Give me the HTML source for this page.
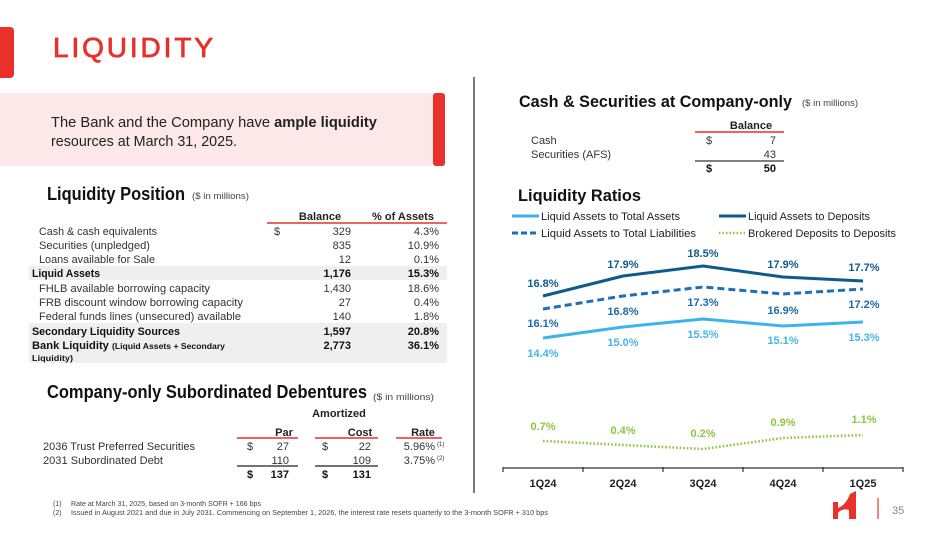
<!DOCTYPE html>
<html>
<head>
<meta charset="utf-8">
<style>
html,body{margin:0;padding:0;background:#fff;}
svg{display:block;}
</style>
</head>
<body>
<svg width="949" height="534" viewBox="0 0 949 534" xmlns="http://www.w3.org/2000/svg" font-family="'Liberation Sans', sans-serif">
  <rect x="0" y="0" width="949" height="534" fill="#ffffff"/>

  <!-- Title -->
  <rect x="-6" y="27" width="20" height="51" rx="4" fill="#e8312a"/>
  <text x="53" y="57" font-size="28" fill="#e8312a" stroke="#e8312a" stroke-width="0.8" textLength="160" lengthAdjust="spacing">LIQUIDITY</text>

  <!-- Pink callout -->
  <rect x="0" y="93" width="440" height="73" fill="#fde8e9"/>
  <rect x="433" y="93" width="12" height="73" rx="3" fill="#e8312a"/>
  <text x="51" y="127" font-size="15" fill="#222" textLength="326" lengthAdjust="spacingAndGlyphs">The Bank and the Company have <tspan font-weight="bold">ample liquidity</tspan></text>
  <text x="51" y="146" font-size="15" fill="#222" textLength="186" lengthAdjust="spacingAndGlyphs">resources at March 31, 2025.</text>

  <!-- Divider -->
  <line x1="474" y1="77" x2="474" y2="493" stroke="#333" stroke-width="1.3"/>

  <!-- Liquidity Position -->
  <text x="47" y="200" font-size="18" font-weight="bold" fill="#111" textLength="138" lengthAdjust="spacingAndGlyphs">Liquidity Position</text>
  <text x="192" y="199" font-size="9" fill="#444" textLength="57" lengthAdjust="spacingAndGlyphs">($ in millions)</text>

  <text x="320" y="220" font-size="11" font-weight="bold" fill="#222" text-anchor="middle">Balance</text>
  <text x="403" y="220" font-size="11" font-weight="bold" fill="#222" text-anchor="middle">% of Assets</text>
  <line x1="267" y1="223" x2="447" y2="223" stroke="#e8312a" stroke-width="1.5"/>

  <rect x="29" y="266" width="418" height="14" fill="#efefef"/>
  <rect x="29" y="323" width="418" height="40" fill="#efefef"/>

  <g font-size="11" fill="#333">
    <text x="39" y="235" textLength="118" lengthAdjust="spacingAndGlyphs">Cash &amp; cash equivalents</text>
    <text x="274" y="235">$</text>
    <text x="351" y="235" text-anchor="end">329</text>
    <text x="439" y="235" text-anchor="end">4.3%</text>

    <text x="39" y="249" textLength="111" lengthAdjust="spacingAndGlyphs">Securities (unpledged)</text>
    <text x="351" y="249" text-anchor="end">835</text>
    <text x="439" y="249" text-anchor="end">10.9%</text>

    <text x="39" y="263" textLength="116" lengthAdjust="spacingAndGlyphs">Loans available for Sale</text>
    <text x="351" y="263" text-anchor="end">12</text>
    <text x="439" y="263" text-anchor="end">0.1%</text>

    <text x="32" y="277" font-weight="bold" fill="#111" textLength="68" lengthAdjust="spacingAndGlyphs">Liquid Assets</text>
    <text x="351" y="277" text-anchor="end" font-weight="bold" fill="#111">1,176</text>
    <text x="439" y="277" text-anchor="end" font-weight="bold" fill="#111">15.3%</text>

    <text x="39" y="292" textLength="171" lengthAdjust="spacingAndGlyphs">FHLB available borrowing capacity</text>
    <text x="351" y="292" text-anchor="end">1,430</text>
    <text x="439" y="292" text-anchor="end">18.6%</text>

    <text x="39" y="306" textLength="204" lengthAdjust="spacingAndGlyphs">FRB discount window borrowing capacity</text>
    <text x="351" y="306" text-anchor="end">27</text>
    <text x="439" y="306" text-anchor="end">0.4%</text>

    <text x="39" y="320" textLength="202" lengthAdjust="spacingAndGlyphs">Federal funds lines (unsecured) available</text>
    <text x="351" y="320" text-anchor="end">140</text>
    <text x="439" y="320" text-anchor="end">1.8%</text>

    <text x="32" y="335" font-weight="bold" fill="#111" textLength="148" lengthAdjust="spacingAndGlyphs">Secondary Liquidity Sources</text>
    <text x="351" y="335" text-anchor="end" font-weight="bold" fill="#111">1,597</text>
    <text x="439" y="335" text-anchor="end" font-weight="bold" fill="#111">20.8%</text>

    <text x="32" y="349" font-weight="bold" fill="#111" textLength="193" lengthAdjust="spacingAndGlyphs">Bank Liquidity <tspan font-size="8.5">(Liquid Assets + Secondary</tspan></text>
    <text x="351" y="349" text-anchor="end" font-weight="bold" fill="#111">2,773</text>
    <text x="439" y="349" text-anchor="end" font-weight="bold" fill="#111">36.1%</text>

    <text x="32" y="361" font-size="8.5" font-weight="bold" fill="#111" textLength="41" lengthAdjust="spacingAndGlyphs">Liquidity)</text>
  </g>

  <!-- Subordinated Debentures -->
  <text x="47" y="398" font-size="18" font-weight="bold" fill="#111" textLength="320" lengthAdjust="spacingAndGlyphs">Company-only Subordinated Debentures</text>
  <text x="373" y="400" font-size="9" fill="#444" textLength="61" lengthAdjust="spacingAndGlyphs">($ in millions)</text>

  <text x="339" y="417" font-size="11" font-weight="bold" fill="#222" text-anchor="middle">Amortized</text>
  <text x="284" y="436" font-size="11" font-weight="bold" fill="#222" text-anchor="middle">Par</text>
  <text x="360" y="436" font-size="11" font-weight="bold" fill="#222" text-anchor="middle">Cost</text>
  <text x="423" y="436" font-size="11" font-weight="bold" fill="#222" text-anchor="middle">Rate</text>
  <line x1="237" y1="438" x2="298" y2="438" stroke="#e8312a" stroke-width="1.5"/>
  <line x1="315" y1="438" x2="378" y2="438" stroke="#e8312a" stroke-width="1.5"/>
  <line x1="396" y1="438" x2="442" y2="438" stroke="#e8312a" stroke-width="1.5"/>

  <g font-size="11" fill="#333">
    <text x="43" y="450" textLength="152" lengthAdjust="spacingAndGlyphs">2036 Trust Preferred Securities</text>
    <text x="247" y="450">$</text>
    <text x="289" y="450" text-anchor="end">27</text>
    <text x="322" y="450">$</text>
    <text x="371" y="450" text-anchor="end">22</text>
    <text x="435" y="450" text-anchor="end">5.96%</text>
    <text x="437" y="446" font-size="6">(1)</text>

    <text x="43" y="464" textLength="120" lengthAdjust="spacingAndGlyphs">2031 Subordinated Debt</text>
    <text x="289" y="464" text-anchor="end">110</text>
    <text x="371" y="464" text-anchor="end">109</text>
    <text x="435" y="464" text-anchor="end">3.75%</text>
    <text x="437" y="460" font-size="6">(2)</text>

    <text x="247" y="478" font-weight="bold" fill="#111">$</text>
    <text x="289" y="478" text-anchor="end" font-weight="bold" fill="#111">137</text>
    <text x="322" y="478" font-weight="bold" fill="#111">$</text>
    <text x="371" y="478" text-anchor="end" font-weight="bold" fill="#111">131</text>
  </g>
  <line x1="237" y1="466" x2="298" y2="466" stroke="#222" stroke-width="1.2"/>
  <line x1="315" y1="466" x2="378" y2="466" stroke="#222" stroke-width="1.2"/>

  <!-- Footnotes -->
  <g font-size="7" fill="#444">
    <text x="53" y="506">(1)</text>
    <text x="71" y="506" textLength="190" lengthAdjust="spacingAndGlyphs">Rate at March 31, 2025, based on 3-month SOFR + 166 bps</text>
    <text x="53" y="515">(2)</text>
    <text x="71" y="515" textLength="477" lengthAdjust="spacingAndGlyphs">Issued in August 2021 and due in July 2031. Commencing on September  1, 2026, the interest rate resets quarterly to the 3-month SOFR + 310 bps</text>
  </g>

  <!-- Cash & Securities at Company-only -->
  <text x="519" y="107" font-size="17" font-weight="bold" fill="#111" textLength="273" lengthAdjust="spacingAndGlyphs">Cash &amp; Securities at Company-only</text>
  <text x="802" y="106" font-size="9" fill="#444" textLength="56" lengthAdjust="spacingAndGlyphs">($ in millions)</text>

  <text x="751" y="129" font-size="11" font-weight="bold" fill="#222" text-anchor="middle">Balance</text>
  <line x1="695" y1="132" x2="784" y2="132" stroke="#e8312a" stroke-width="1.5"/>
  <g font-size="11" fill="#333">
    <text x="531" y="144">Cash</text>
    <text x="706" y="144">$</text>
    <text x="776" y="144" text-anchor="end">7</text>
    <text x="531" y="158">Securities (AFS)</text>
    <text x="776" y="158" text-anchor="end">43</text>
    <text x="706" y="172" font-weight="bold" fill="#111">$</text>
    <text x="776" y="172" text-anchor="end" font-weight="bold" fill="#111">50</text>
  </g>
  <line x1="695" y1="161" x2="784" y2="161" stroke="#333" stroke-width="1.2"/>

  <!-- Liquidity Ratios -->
  <text x="518" y="201" font-size="17" font-weight="bold" fill="#111" textLength="123" lengthAdjust="spacingAndGlyphs">Liquidity Ratios</text>

  <!-- Legend -->
  <line x1="512" y1="216" x2="539" y2="216" stroke="#3db2ee" stroke-width="3"/>
  <text x="541" y="220" font-size="11" fill="#222" textLength="139" lengthAdjust="spacingAndGlyphs">Liquid Assets to Total Assets</text>
  <line x1="719" y1="216" x2="746" y2="216" stroke="#0f5a8c" stroke-width="3"/>
  <text x="748" y="220" font-size="11" fill="#222" textLength="122" lengthAdjust="spacingAndGlyphs">Liquid Assets to Deposits</text>
  <line x1="512" y1="233" x2="539" y2="233" stroke="#1d6fb8" stroke-width="3" stroke-dasharray="6,3"/>
  <text x="541" y="237" font-size="11" fill="#222" textLength="155" lengthAdjust="spacingAndGlyphs">Liquid Assets to Total Liabilities</text>
  <line x1="719" y1="233" x2="746" y2="233" stroke="#8dc63f" stroke-width="2.5" stroke-dasharray="1.5,2"/>
  <text x="748" y="237" font-size="11" fill="#222" textLength="148" lengthAdjust="spacingAndGlyphs">Brokered Deposits to Deposits</text>

  <!-- Series lines -->
  <polyline points="543,296 623,276 703,266 783,277 863,281" fill="none" stroke="#0f5a8c" stroke-width="3" stroke-linejoin="round"/>
  <polyline points="543,309 623,296 703,287 783,294 863,289" fill="none" stroke="#1d6fb8" stroke-width="3" stroke-dasharray="7,4" stroke-linejoin="round"/>
  <polyline points="543,338 623,327 703,319 783,326 863,322" fill="none" stroke="#3db2ee" stroke-width="3" stroke-linejoin="round"/>
  <polyline points="543,441 623,445 703,449 783,438 863,435" fill="none" stroke="#8dc63f" stroke-width="2.6" stroke-dasharray="1.6,2" stroke-linejoin="round"/>

  <!-- Data labels -->
  <g font-size="11" font-weight="bold" text-anchor="middle">
    <g fill="#0f5a8c">
      <text x="543" y="287">16.8%</text>
      <text x="623" y="268">17.9%</text>
      <text x="703" y="257">18.5%</text>
      <text x="783" y="268">17.9%</text>
      <text x="864" y="271">17.7%</text>
    </g>
    <g fill="#1d6aab">
      <text x="543" y="327">16.1%</text>
      <text x="623" y="315">16.8%</text>
      <text x="703" y="306">17.3%</text>
      <text x="783" y="314">16.9%</text>
      <text x="864" y="308">17.2%</text>
    </g>
    <g fill="#45b3ec">
      <text x="543" y="357">14.4%</text>
      <text x="623" y="346">15.0%</text>
      <text x="703" y="338">15.5%</text>
      <text x="783" y="344">15.1%</text>
      <text x="864" y="341">15.3%</text>
    </g>
    <g fill="#8dc63f">
      <text x="543" y="430">0.7%</text>
      <text x="623" y="434">0.4%</text>
      <text x="703" y="437">0.2%</text>
      <text x="783" y="426">0.9%</text>
      <text x="864" y="423">1.1%</text>
    </g>
  </g>

  <!-- Axis -->
  <line x1="503" y1="468" x2="903" y2="468" stroke="#333" stroke-width="1.3"/>
  <g stroke="#333" stroke-width="1.2">
    <line x1="503" y1="467" x2="503" y2="472"/>
    <line x1="583" y1="467" x2="583" y2="472"/>
    <line x1="663" y1="467" x2="663" y2="472"/>
    <line x1="743" y1="467" x2="743" y2="472"/>
    <line x1="823" y1="467" x2="823" y2="472"/>
    <line x1="903" y1="467" x2="903" y2="472"/>
  </g>
  <g font-size="11" font-weight="bold" fill="#222" text-anchor="middle">
    <text x="543" y="487">1Q24</text>
    <text x="623" y="487">2Q24</text>
    <text x="703" y="487">3Q24</text>
    <text x="783" y="487">4Q24</text>
    <text x="863" y="487">1Q25</text>
  </g>

  <!-- Logo & page number -->
  <path d="M833,502 L838,502 L838,508 Q846,505 850,494 L856,491 L856,519 L849,519 L849,510 Q842,508 838,513 L838,519 L833,519 Z" fill="#e8312a"/>
  <line x1="878" y1="498" x2="878" y2="519" stroke="#e8312a" stroke-width="1.2"/>
  <text x="892" y="514" font-size="11" fill="#888">35</text>
</svg>
</body>
</html>
